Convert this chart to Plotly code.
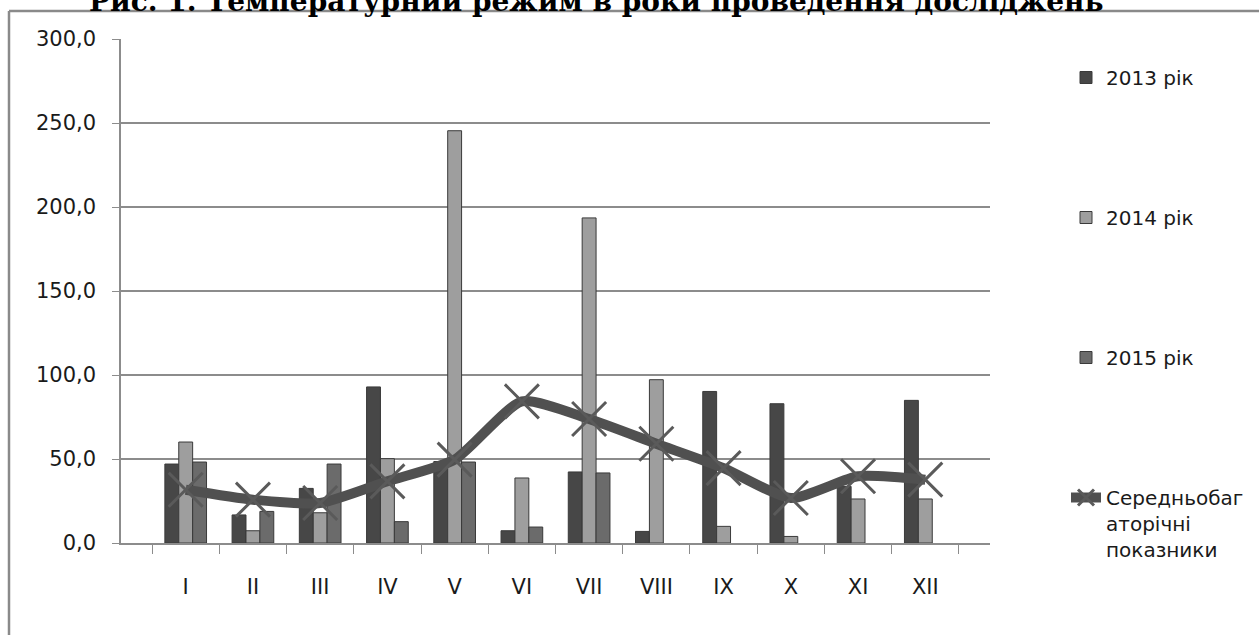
import plotly.graph_objects as go

months = ["I", "II", "III", "IV", "V", "VI", "VII", "VIII", "IX", "X", "XI", "XII"]
y2013 = [47.0, 16.7, 32.5, 92.9, 48.5, 7.3, 42.3, 6.9, 90.2, 82.9, 33.7, 84.9]
y2014 = [60.1, 7.3, 18.0, 50.2, 245.4, 38.7, 193.5, 97.2, 9.9, 3.9, 26.2, 26.2]
y2015 = [48.2, 18.8, 47.0, 12.7, 48.2, 9.5, 41.7, None, None, None, None, None]
avg = [31.7, 25.8, 23.8, 36.7, 49.6, 84.3, 73.8, 59.1, 44.6, 26.8, 39.7, 37.7]

series_names = ["2013 рік", "2014 рік", "2015 рік"]
avg_name = "Середньобаг<br>аторічні<br>показники"
title_text = "Рис. 1. Температурний режим в роки проведення досліджень"
yticks = [0, 50, 100, 150, 200, 250, 300]

FONT = "DejaVu Sans"
W, H = 1259, 635
L, R, T, B = 121, 990, 39, 543

def px_x(p):
    return (p - L) / (R - L)

def px_y(p):
    return (B - p) / (B - T)

fig = go.Figure()
colors = ["#474747", "#9e9e9e", "#6b6b6b"]
for i, (name, vals) in enumerate(zip(series_names, [y2013, y2014, y2015])):
    fig.add_trace(go.Bar(
        x=months, y=vals, name=name, legendgroup=name,
        marker=dict(color=colors[i], line=dict(color="#3a3a3a", width=1)),
    ))

fig.add_trace(go.Scatter(
    x=months, y=avg, name=avg_name, legendgroup="avg",
    mode="lines+markers",
    line=dict(color="#505050", width=10, shape="spline", smoothing=0.6),
    marker=dict(symbol="x-thin", size=34, color="#5a5a5a",
                line=dict(color="#5a5a5a", width=3)),
))

fig.update_layout(
    width=W, height=H,
    margin=dict(l=L, r=W - R, t=T, b=H - B, pad=0, autoexpand=False),
    paper_bgcolor="white", plot_bgcolor="white",
    barmode="group", bargap=0.38, bargroupgap=0,
    separators=", ",
    font=dict(family=FONT, size=21, color="#1a1a1a"),
    showlegend=True,
    legend=dict(
        xref="container", yref="container",
        x=1066 / W, y=1 - 58 / H, xanchor="left", yanchor="top",
        font=dict(family=FONT, size=20, color="#1a1a1a"),
        tracegroupgap=111, traceorder="grouped", valign="top",
        bgcolor="rgba(0,0,0,0)", maxheight=620,
    ),
    xaxis=dict(
        showline=True, linecolor="#8c8c8c", linewidth=1.5,
        ticks="outside", ticklen=9, tickcolor="#8c8c8c", tickson="boundaries",
        showgrid=False, ticklabelstandoff=24,
        tickfont=dict(family=FONT, size=21, color="#1a1a1a"),
    ),
    yaxis=dict(
        range=[0, 300], tickvals=yticks, tickformat=".1f",
        showline=True, linecolor="#8c8c8c", linewidth=1.5,
        ticks="outside", ticklen=7, tickcolor="#8c8c8c",
        showgrid=True, gridcolor="#8c8c8c", gridwidth=1.5,
        zeroline=False, ticklabelstandoff=12,
        tickfont=dict(family=FONT, size=21, color="#1a1a1a"),
    ),
)

frame = dict(xref="paper", yref="paper", line=dict(color="#8a8a8a", width=2.5), layer="above")
fig.add_shape(type="line", x0=px_x(9), x1=px_x(1262), y0=px_y(11), y1=px_y(11), **frame)
fig.add_shape(type="line", x0=px_x(9), x1=px_x(9), y0=px_y(11), y1=px_y(640), **frame)

fig.add_annotation(
    text="<b>" + title_text + "</b>", xref="paper", yref="paper",
    x=px_x(596), y=px_y(20), xanchor="center", yanchor="bottom",
    showarrow=False, font=dict(family="DejaVu Serif", size=28, color="black"),
)

fig.write_html(
    "out.html",
    config={"displayModeBar": False},
    post_script="document.body.style.margin='0';document.body.style.overflow='hidden';",
)
